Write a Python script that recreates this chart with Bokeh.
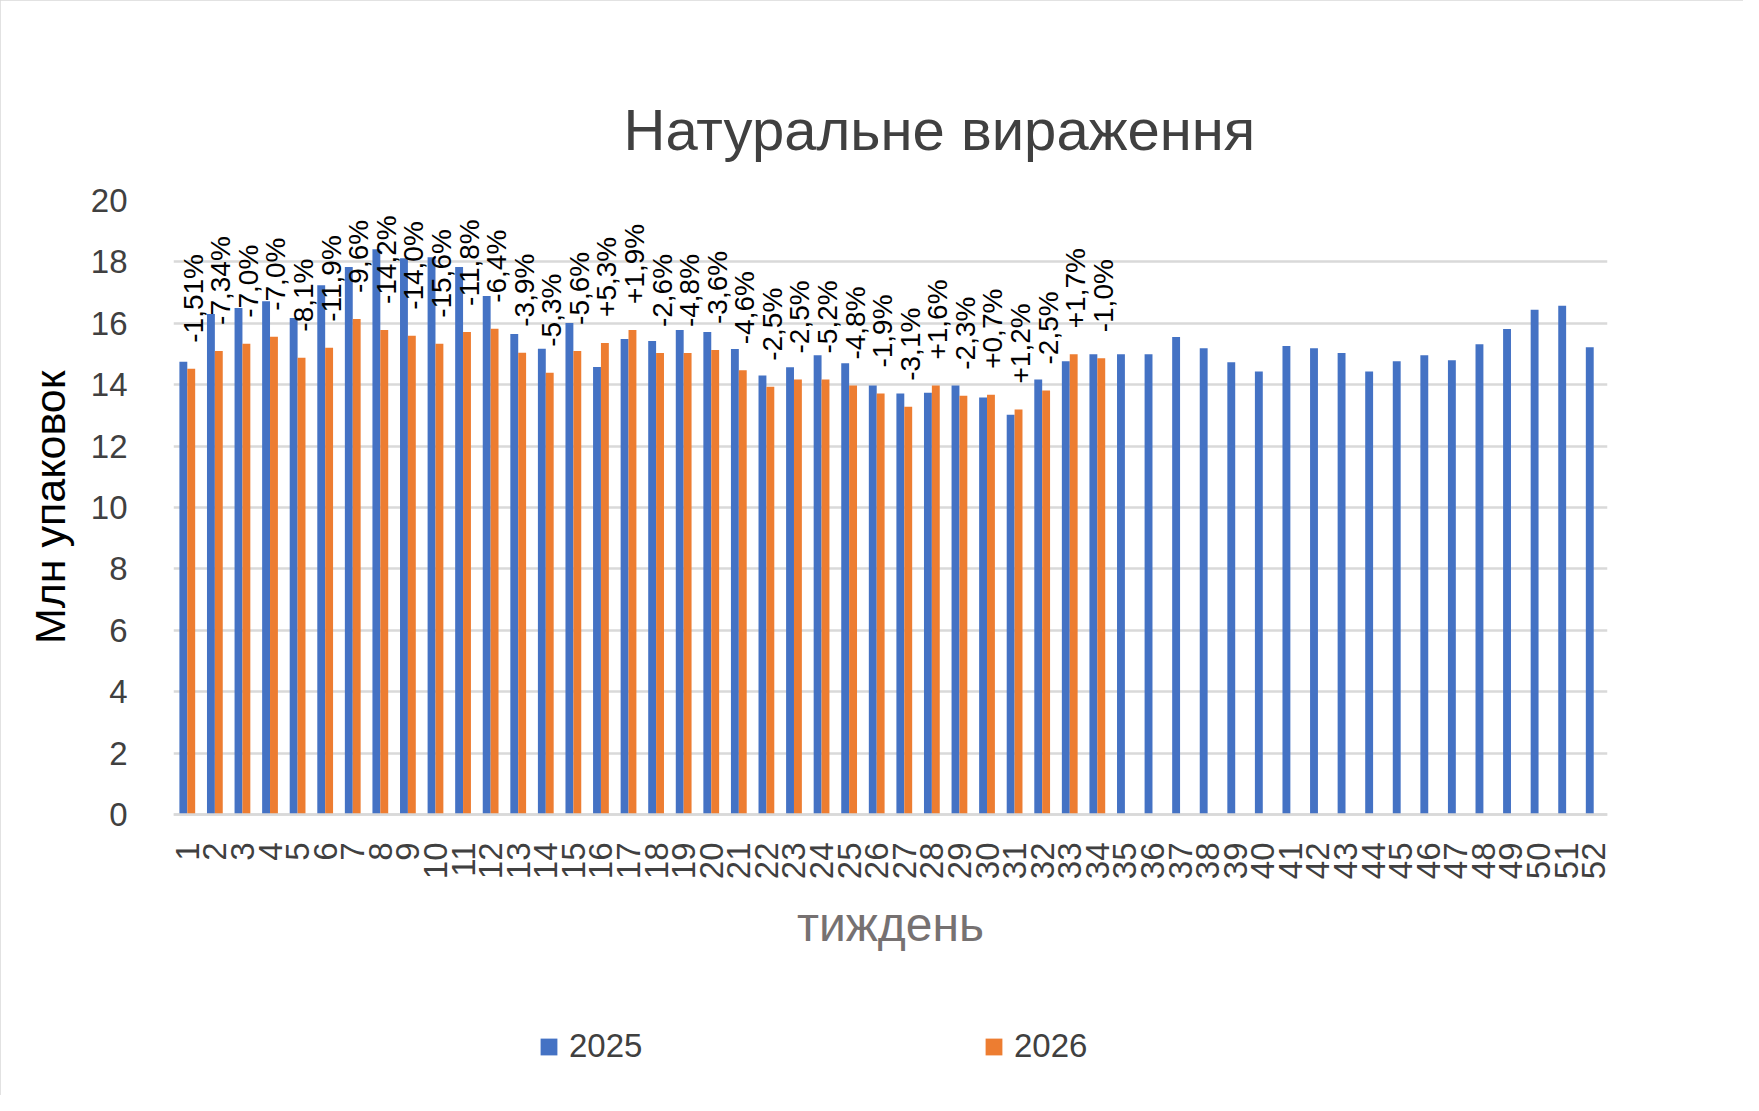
from math import pi

from bokeh.core.properties import value
from bokeh.embed import file_html
from bokeh.models import (ColumnDataSource, FixedTicker, Legend, LegendItem,
                          Range1d, Title)
from bokeh.plotting import figure
from bokeh.resources import INLINE
from bokeh.transform import dodge

# тижні та значення (млн упаковок)
weeks = list(range(1, 53))

v2025 = [14.75, 16.30, 16.50, 16.72, 16.17, 17.24, 17.83, 18.41, 18.12, 18.15,
         17.83, 16.89, 15.65, 15.17, 16.01, 14.58, 15.49, 15.42, 15.78, 15.72,
         15.16, 14.30, 14.57, 14.96, 14.70, 13.97, 13.71, 13.74, 13.97, 13.58,
         13.02, 14.17, 14.76, 14.99, 14.99, 14.99, 15.55, 15.19, 14.73, 14.43,
         15.26, 15.19, 15.03, 14.43, 14.76, 14.96, 14.80, 15.32, 15.81, 16.44,
         16.57, 15.22]

v2026 = [14.52, 15.10, 15.33, 15.56, 14.88, 15.20, 16.14, 15.78, 15.59, 15.33,
         15.72, 15.82, 15.04, 14.39, 15.10, 15.36, 15.78, 15.03, 15.03, 15.13,
         14.47, 13.93, 14.17, 14.17, 13.97, 13.71, 13.28, 13.97, 13.64, 13.67,
         13.19, 13.81, 14.99, 14.86]

changes = ["-1,51%", "-7,34%", "-7,0%", "-7,0%", "-8,1%", "-11,9%", "-9,6%",
           "-14,2%", "-14,0%", "-15,6%", "-11,8%", "-6,4%", "-3,9%", "-5,3%",
           "-5,6%", "+5,3%", "+1,9%", "-2,6%", "-4,8%", "-3,6%", "-4,6%",
           "-2,5%", "-2,5%", "-5,2%", "-4,8%", "-1,9%", "-3,1%", "+1,6%",
           "-2,3%", "+0,7%", "+1,2%", "-2,5%", "+1,7%", "-1,0%"]

y_ticks = list(range(0, 21, 2))

FONT = "Liberation Sans"
BLUE = "#4472C4"
ORANGE = "#ED7D31"
GRID = "#D9D9D9"

src25 = ColumnDataSource(data=dict(week=weeks, val=v2025))
src26 = ColumnDataSource(data=dict(week=weeks[:len(v2026)], val=v2026, lbl=changes))

# рамка продовжена донизу, щоб підпис осі та легенда були всередині неї
p = figure(width=1743, height=1095,
           x_range=Range1d(0.5, 52.5), y_range=Range1d(-8.83, 20),
           output_backend="svg", toolbar_location=None,
           min_border_left=173, min_border_right=136,
           min_border_top=200, min_border_bottom=10)
p.outline_line_color = None
p.styles = {"outline": "3px solid #D9D9D9", "outline-offset": "-3px"}

# заголовок
p.title.text = "Натуральне вираження"
p.title.align = "left"
p.title.offset = 450
p.title.vertical_align = "bottom"
p.title.standoff = 77
p.title.text_font = FONT
p.title.text_font_size = "58px"
p.title.text_font_style = "normal"
p.title.text_color = "#404040"

r25 = p.vbar(x=dodge("week", -0.143), top="val", width=0.286, source=src25,
             fill_color=BLUE, line_color=None)
r26 = p.vbar(x=dodge("week", 0.143), top="val", width=0.286, source=src26,
             fill_color=ORANGE, line_color=None)

# підписи змін над помаранчевими стовпцями
p.text(x=dodge("week", 0.143), y="val", text="lbl", source=src26,
       angle=pi / 2, text_align="left", text_baseline="middle",
       x_offset=2, y_offset=-26,
       text_font=value(FONT), text_font_size="28px", text_color="black")

# осі
p.xaxis.ticker = FixedTicker(ticks=weeks)
p.yaxis.ticker = FixedTicker(ticks=y_ticks)
p.xaxis.fixed_location = 0
p.xaxis.major_label_orientation = pi / 2
for ax in (p.xaxis[0], p.yaxis[0]):
    ax.major_tick_line_color = None
    ax.minor_tick_line_color = None
    ax.major_label_text_font = FONT
    ax.major_label_text_font_size = "33px"
    ax.major_label_text_color = "#404040"
    ax.axis_label_text_font = FONT
    ax.axis_label_text_font_style = "normal"
p.yaxis.axis_line_color = None
p.xaxis.axis_line_color = GRID
p.xaxis.axis_line_width = 2.5
p.xaxis.major_label_standoff = 22
p.yaxis.major_label_standoff = 40

p.xaxis.axis_label = "тиждень"
p.xaxis.axis_label_text_font_size = "48px"
p.xaxis.axis_label_text_color = "#767171"
p.xaxis.axis_label_standoff = 16

p.add_layout(Title(text="Млн упаковок", align="right", offset=170,
                   vertical_align="bottom", standoff=27,
                   text_font=FONT, text_font_size="43px",
                   text_font_style="normal", text_color="black"), "left")

p.xgrid.visible = False
p.ygrid.grid_line_color = GRID
p.ygrid.grid_line_width = 2.5

# легенда
legend = Legend(items=[LegendItem(label="2025", renderers=[r25]),
                       LegendItem(label="2026", renderers=[r26])],
                location=(365, 20), orientation="horizontal",
                glyph_width=21, glyph_height=21, label_standoff=10,
                label_width=228, spacing=186, padding=0, margin=0,
                border_line_color=None, background_fill_alpha=0,
                label_text_font=FONT, label_text_font_size="33px",
                label_text_color="#404040")
p.add_layout(legend)

open("out.html", "w").write(file_html(p, INLINE))
